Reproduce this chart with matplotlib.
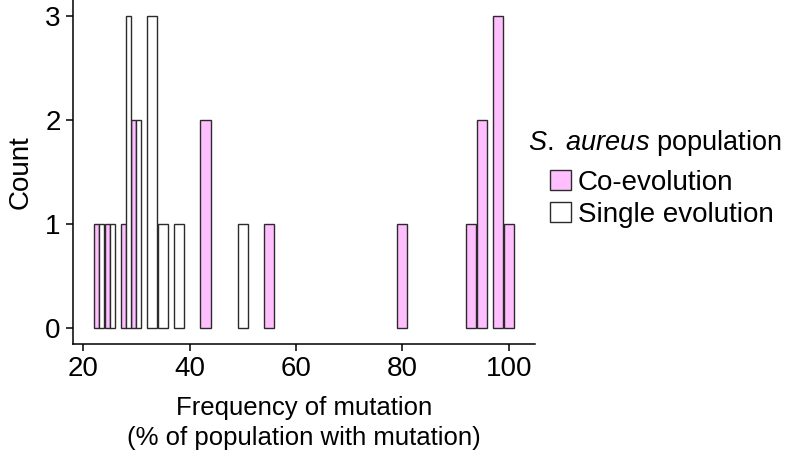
import matplotlib
matplotlib.use("Agg")
import matplotlib.pyplot as plt
from matplotlib.patches import Patch
import numpy as np

plt.rcParams['font.family'] = ['Liberation Sans', 'DejaVu Sans']
plt.rcParams['mathtext.fontset'] = 'custom'
plt.rcParams['mathtext.it'] = 'Liberation Sans:italic'
plt.rcParams['mathtext.rm'] = 'Liberation Sans'

# frequency of mutation (%) and counts per series
co_x = [23, 25, 28, 30, 43, 55, 80, 93, 95, 98, 100]
co_n = [1, 1, 1, 2, 2, 1, 1, 1, 2, 3, 1]
single_x = [23, 25, 28, 30, 33, 35, 38, 50]
single_n = [1, 1, 3, 2, 3, 1, 1, 1]

labels = ['Co-evolution', 'Single evolution']
colors = ['#ffbfff', 'white']
edge = '#2b2b2b'
W = 1.9

fig = plt.figure(figsize=(7.86, 4.61), dpi=100)
ax = fig.add_axes([0.093, 0.254, 0.588, 0.746])

shared = set(co_x) & set(single_x)
for xs, ns, col, side in [(co_x, co_n, colors[0], -1), (single_x, single_n, colors[1], 1)]:
    for x, n in zip(xs, ns):
        if x in shared:
            ax.bar(x + side * W / 4, n, W / 2, color=col, edgecolor=edge, linewidth=1)
        else:
            ax.bar(x, n, W, color=col, edgecolor=edge, linewidth=1)

ax.set_xlim(18.1, 105)
ax.set_ylim(-0.15, 3.15)
ax.set_xticks([20, 40, 60, 80, 100])
ax.set_yticks([0, 1, 2, 3])
for s in ['top', 'right']:
    ax.spines[s].set_visible(False)
for s in ['left', 'bottom']:
    ax.spines[s].set_linewidth(1.1)
ax.tick_params(length=5, width=1.1, labelsize=20, pad=4)
ax.set_xlabel('Frequency of mutation\n(% of population with mutation)', fontsize=18.5, linespacing=1.3, labelpad=10)
ax.set_ylabel('Count', fontsize=20, labelpad=8)

fig.text(0.672, 0.69, r'$\it{S.\ aureus}$ population', fontsize=19.5, ha='left', va='center')
handles = [Patch(facecolor=c, edgecolor=edge, linewidth=1) for c in colors]
leg = fig.legend(handles, labels, loc='upper left', bbox_to_anchor=(0.700, 0.632),
                 frameon=False, fontsize=20, handlelength=0.75, handleheight=0.75,
                 handletextpad=0.25, labelspacing=0.22, borderpad=0.0, borderaxespad=0)

fig.savefig('out.png', dpi=100)
